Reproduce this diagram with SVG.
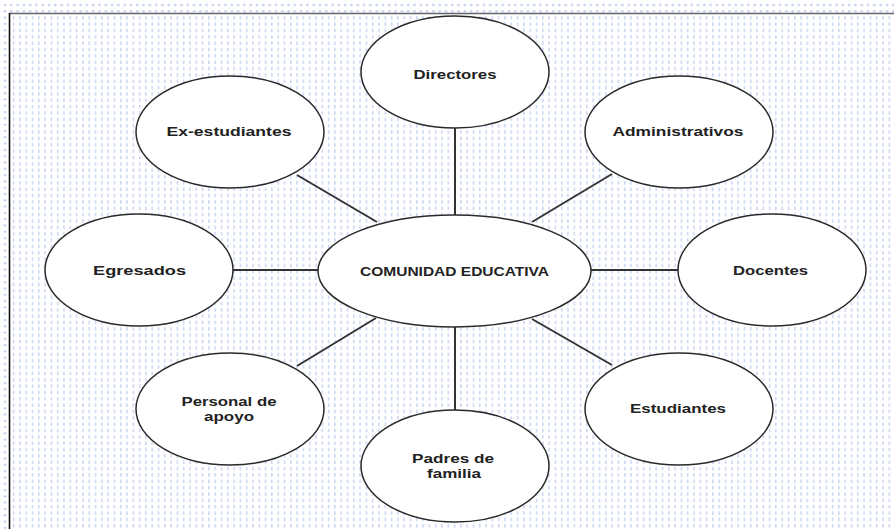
<svg xmlns="http://www.w3.org/2000/svg" width="894" height="529" viewBox="0 0 894 529">
<defs>
<pattern id="dots" x="2" y="2" width="6.3" height="6.3" patternUnits="userSpaceOnUse">
<circle cx="3" cy="3" r="1.3" fill="#c2d0f0"/>
</pattern>
<pattern id="dashes" x="11" y="15" width="6.3" height="6.35" patternUnits="userSpaceOnUse">
<rect x="2" y="1" width="1.2" height="3.6" fill="#bccbf0"/>
</pattern>
</defs>
<style>
.node ellipse{fill:#fff;stroke:#2a2a2a;stroke-width:1.5}
.node text{font-family:"Liberation Sans",Arial,sans-serif;font-weight:bold;font-size:13.5px;fill:#222;text-anchor:middle}
.node text.two{font-size:12.5px}
#connectors line{stroke:#333;stroke-width:2}
</style>
<rect width="894" height="529" fill="#fff"/>
<rect width="894" height="529" fill="url(#dots)"/>
<rect x="10" y="14" width="884" height="515" fill="#fff"/>
<rect x="10" y="14" width="884" height="515" fill="url(#dashes)"/>
<line x1="9" y1="13.5" x2="894" y2="13.5" stroke="#666" stroke-width="1.6"/>
<line x1="9.5" y1="13" x2="9.5" y2="529" stroke="#111" stroke-width="1.6"/>
<g id="connectors">
<line x1="455" y1="128" x2="455" y2="215"/>
<line x1="297" y1="175" x2="377" y2="222"/>
<line x1="612" y1="174" x2="532" y2="222"/>
<line x1="233" y1="270" x2="318" y2="270"/>
<line x1="591" y1="270" x2="678" y2="270"/>
<line x1="297" y1="366" x2="376" y2="318"/>
<line x1="532" y1="319" x2="612" y2="365"/>
<line x1="455" y1="327" x2="455" y2="410"/>
</g>
<g id="n-center" class="node"><ellipse cx="454.5" cy="271" rx="136.5" ry="56"/><text x="454.5" y="275.5" textLength="189" lengthAdjust="spacingAndGlyphs">COMUNIDAD EDUCATIVA</text></g>
<g id="n-directores" class="node"><ellipse cx="455" cy="72" rx="94" ry="56"/><text x="455" y="78.5" textLength="83" lengthAdjust="spacingAndGlyphs">Directores</text></g>
<g id="n-exestudiantes" class="node"><ellipse cx="230" cy="132" rx="94" ry="56"/><text x="229" y="136" textLength="125" lengthAdjust="spacingAndGlyphs">Ex-estudiantes</text></g>
<g id="n-administrativos" class="node"><ellipse cx="679" cy="132" rx="94" ry="56"/><text x="678" y="136" textLength="131" lengthAdjust="spacingAndGlyphs">Administrativos</text></g>
<g id="n-egresados" class="node"><ellipse cx="139" cy="270" rx="94" ry="56"/><text x="139.5" y="275" textLength="93" lengthAdjust="spacingAndGlyphs">Egresados</text></g>
<g id="n-docentes" class="node"><ellipse cx="772" cy="270" rx="94" ry="56"/><text x="770.5" y="275" textLength="75" lengthAdjust="spacingAndGlyphs">Docentes</text></g>
<g id="n-personal" class="node"><ellipse cx="230" cy="409" rx="94" ry="56"/><text class="two" x="229" y="405.5" textLength="95" lengthAdjust="spacingAndGlyphs">Personal de</text><text class="two" x="229" y="420.5" textLength="50" lengthAdjust="spacingAndGlyphs">apoyo</text></g>
<g id="n-estudiantes" class="node"><ellipse cx="679" cy="409" rx="94" ry="56"/><text x="678" y="413" textLength="96" lengthAdjust="spacingAndGlyphs">Estudiantes</text></g>
<g id="n-padres" class="node"><ellipse cx="455" cy="466" rx="94" ry="56"/><text class="two" x="453" y="462.5" textLength="82" lengthAdjust="spacingAndGlyphs">Padres de</text><text class="two" x="454" y="477.5" textLength="54" lengthAdjust="spacingAndGlyphs">familia</text></g>
</svg>
